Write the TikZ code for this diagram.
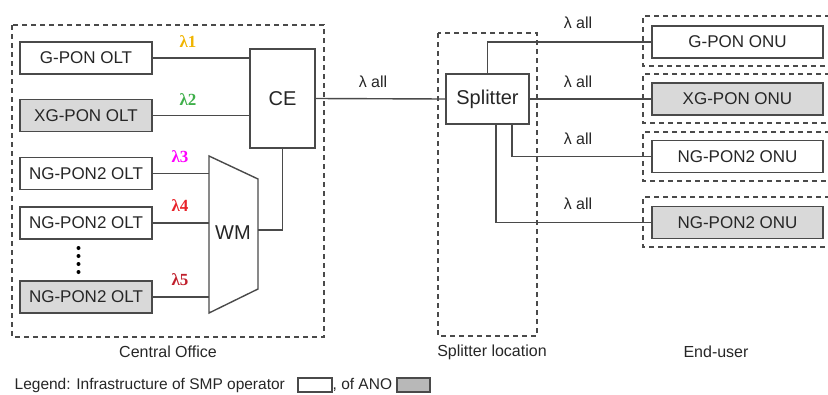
\documentclass[tikz,border=0pt]{standalone}
\usepackage{fontspec}
\setmainfont{Liberation Sans}
\newfontfamily\lamfont{Liberation Serif}
\begin{document}
\begin{tikzpicture}[x=1pt,y=-1pt,
  line width=1.3pt,
  every node/.style={text=txt},
  box/.style={draw=ln, line width=1.2pt, minimum width=132pt, minimum height=32pt, inner sep=0pt, font=\fontsize{17}{17}\selectfont},
  ano/.style={fill=anofill},
  onu/.style={box, minimum width=171pt},
  wire/.style={draw=ln, line width=1.4pt},
  frame/.style={draw=ln, line width=1.2pt, dash pattern=on 5pt off 4pt},
  lam/.style={inner sep=0pt, font=\lamfont\bfseries\fontsize{17}{17}\selectfont},
  lall/.style={inner sep=0pt, font=\fontsize{16}{16}\selectfont},
  captxt/.style={inner sep=0pt, font=\fontsize{16}{16}\selectfont},
  big/.style={draw=ln, line width=1.4pt, inner sep=0pt, font=\fontsize{20}{20}\selectfont}
]
\definecolor{txt}{HTML}{262626}
\definecolor{ln}{HTML}{4A4A4A}
\definecolor{anofill}{HTML}{D9D9D9}
\definecolor{l1}{HTML}{F0B400}
\definecolor{l2}{HTML}{3FAF4A}
\definecolor{l3}{HTML}{FF00FF}
\definecolor{l4}{HTML}{E8232A}
\definecolor{l5}{HTML}{C01F2C}
\useasboundingbox (0,0) rectangle (828,394);

% frames
\draw[frame] (12,25) rectangle (324,337);
\draw[frame] (438,33) rectangle (537,336);
\foreach \t/\b in {16/66,74/123,132/181,197/247}
  \draw[frame] (830,\t) -- (643,\t) -- (643,\b) -- (830,\b);

% OLTs
\node[box] (olt1) at (86,58) {G-PON OLT};
\node[box,ano] (olt2) at (86,115.5) {XG-PON OLT};
\node[box] (olt3) at (86,173.5) {NG-PON2 OLT};
\node[box] (olt4) at (86,223) {NG-PON2 OLT};
\node[box,ano] (olt5) at (86,297) {NG-PON2 OLT};
\foreach \y in {248,256,264,272} \fill[black] (78.5,\y) circle (2pt);

% CE
\node[big, minimum width=65pt, minimum height=99pt] (ce) at (282.5,98.5) {CE};
% WM
\draw[draw=ln, line width=1.4pt] (209,156) -- (258,179) -- (258,289) -- (209,313) -- cycle;
\coordinate (wmin) at (209,200);
\coordinate (wmout) at (258,230);
\node[inner sep=0pt, font=\fontsize{20}{20}\selectfont] (wm) at (233,233) {WM};

% splitter
\node[big, minimum width=83pt, minimum height=50pt] (split) at (487.5,99) {Splitter};

% ONUs
\node[onu] (onu1) at (737.5,42) {G-PON ONU};
\node[onu,ano] (onu2) at (737.5,99) {XG-PON ONU};
\node[onu] (onu3) at (737.5,156.5) {NG-PON2 ONU};
\node[onu,ano] (onu4) at (737.5,222.5) {NG-PON2 ONU};

% wires
\draw[wire] (olt1.east) -- (olt1.east -| ce.west);
\draw[wire] (olt2.east) -- (olt2.east -| ce.west);
\draw[wire] (olt3.east) -- (olt3.east -| wmin);
\draw[wire] (olt4.east) -- (olt4.east -| wmin);
\draw[wire] (olt5.east) -- (olt5.east -| wmin);
\draw[wire] (wmout) -| (ce.south);
\draw[wire] (ce.east) -- (split.west);
\draw[wire] (split.north) |- (onu1.west);
\draw[wire] (split.east) -- (onu2.west);
\draw[wire] ([xshift=24.5pt]split.south) |- (onu3.west);
\draw[wire] ([xshift=8.5pt]split.south) |- (onu4.west);

% lambda labels
\node[lam, text=l1] (lam1) at (188,42) {λ1};
\node[lam, text=l2] (lam2) at (188,100) {λ2};
\node[lam, text=l3] (lam3) at (180,157) {λ3};
\node[lam, text=l4] (lam4) at (180,206) {λ4};
\node[lam, text=l5] (lam5) at (180,280) {λ5};
\node[lall] (la0) at (373,82) {λ all};
\node[lall] (la1) at (578,23) {λ all};
\node[lall] (la2) at (578,82) {λ all};
\node[lall] (la3) at (578,139) {λ all};
\node[lall] (la4) at (578,204) {λ all};

% captions
\node[captxt] (co) at (168,352) {Central Office};
\node[captxt] (sl) at (492,352) {Splitter location};
\node[captxt] (eu) at (716,352) {End-user};

% legend
\node[captxt, anchor=west, font=\fontsize{15.5}{15.5}\selectfont] (leg) at (14,385) {Legend: Infrastructure of SMP operator};
\node[draw=ln, line width=1.2pt, minimum width=34pt, minimum height=14pt, inner sep=0pt] (legw) at (315,385) {};
\node[captxt, anchor=west, font=\fontsize{15.5}{15.5}\selectfont] (leg2) at (332,385) {, of ANO};
\node[draw=ln, line width=1.2pt, fill=anofill!85!black, minimum width=33pt, minimum height=14pt, inner sep=0pt] (legg) at (413.5,385) {};
\end{tikzpicture}
\end{document}
